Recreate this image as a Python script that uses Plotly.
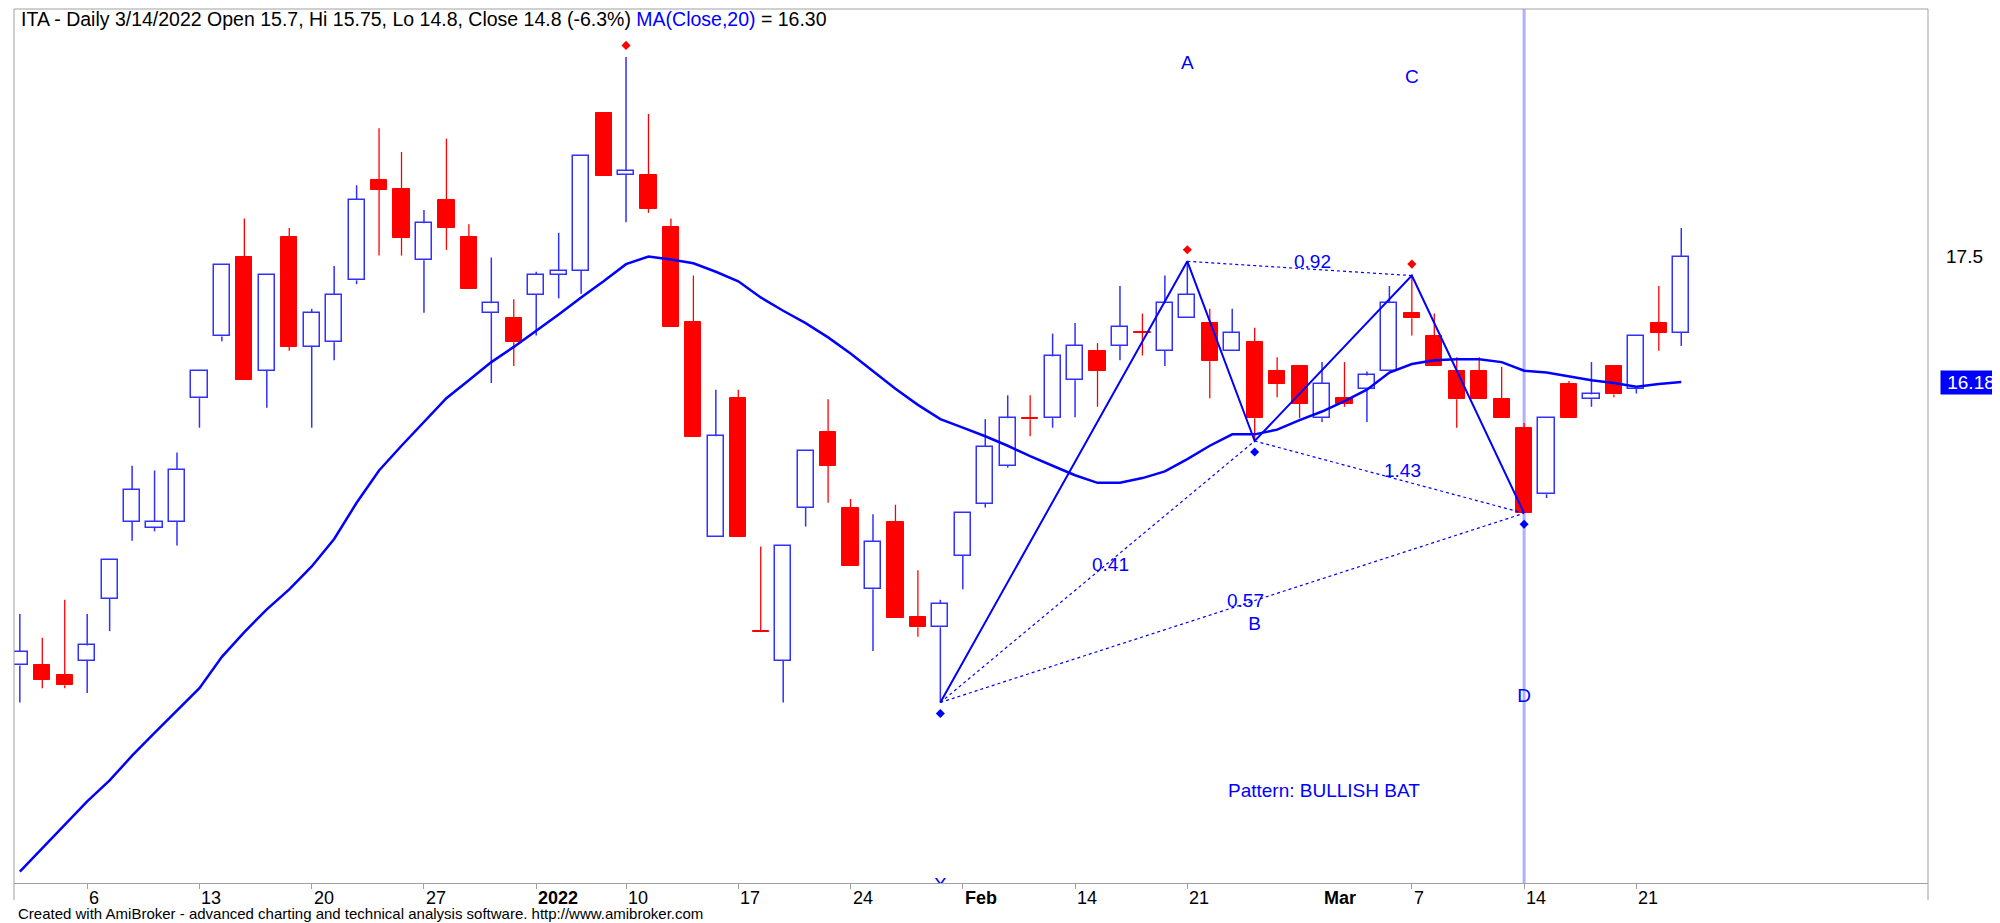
import plotly.graph_objects as go

# ---------------- data (bar index 0..74, Dec 2021 - Mar 23 2022) ----------------
opens = [13.20, 13.20, 13.10, 13.25, 13.90, 14.71, 14.65, 14.71, 16.01, 16.66,
         17.50, 16.30, 17.71, 16.55, 16.60, 17.25, 18.31, 18.21, 17.46, 18.10,
         17.71, 16.91, 16.85, 17.10, 17.31, 17.35, 19.01, 18.36, 18.36, 17.81,
         16.81, 14.55, 16.01, 13.56, 13.25, 14.86, 15.65, 14.86, 14.00, 14.71,
         13.71, 13.60, 14.35, 14.90, 15.30, 15.80, 15.80, 16.20, 16.51, 16.56,
         16.71, 16.51, 16.85, 16.80, 16.51, 16.60, 16.30, 16.35, 15.80, 16.01,
         16.11, 16.30, 16.91, 16.66, 16.30, 16.30, 16.00, 15.70, 15.00, 16.16,
         16.00, 16.35, 16.11, 16.80, 16.70]
highs = [13.74, 13.49, 13.89, 13.74, 14.31, 15.30, 15.25, 15.44, 16.30, 17.41,
         17.90, 17.31, 17.80, 16.95, 17.40, 18.25, 18.85, 18.60, 17.99, 18.74,
         17.84, 17.49, 17.05, 17.34, 17.75, 18.56, 19.01, 19.60, 19.00, 17.90,
         17.30, 16.10, 16.10, 14.45, 14.46, 15.45, 16.00, 14.95, 14.79, 14.89,
         14.20, 13.89, 14.80, 15.79, 16.04, 16.04, 16.69, 16.80, 16.59, 17.19,
         16.90, 17.30, 17.45, 16.95, 16.95, 16.75, 16.44, 16.35, 16.39, 16.39,
         16.29, 17.19, 17.30, 16.90, 16.44, 16.44, 16.34, 15.75, 15.80, 16.19,
         16.39, 16.35, 16.66, 17.19, 17.80]
lows = [12.81, 12.96, 12.96, 12.91, 13.56, 14.51, 14.61, 14.46, 15.70, 16.61,
        16.20, 15.91, 16.51, 15.70, 16.41, 17.21, 17.51, 17.51, 16.91, 17.57,
        17.16, 16.17, 16.35, 16.67, 17.06, 17.11, 18.35, 17.86, 17.96, 16.76,
        15.60, 14.55, 14.55, 13.55, 12.81, 14.66, 14.91, 14.25, 13.35, 13.70,
        13.50, 12.81, 14.00, 14.86, 15.28, 15.61, 15.70, 15.81, 15.92, 16.41,
        16.46, 16.35, 16.85, 16.01, 16.51, 15.56, 16.02, 15.80, 15.76, 15.92,
        15.76, 16.30, 16.67, 16.35, 15.70, 16.00, 15.80, 14.80, 14.96, 15.80,
        15.92, 16.02, 16.06, 16.51, 16.56]
closes = [13.34, 13.05, 12.99, 13.41, 14.31, 15.05, 14.71, 15.26, 16.30, 17.41,
          16.20, 17.31, 16.55, 16.91, 17.10, 18.10, 18.20, 17.70, 17.85, 17.80,
          17.16, 17.01, 16.60, 17.31, 17.35, 18.56, 18.35, 18.40, 18.00, 16.76,
          15.60, 15.61, 14.55, 13.55, 14.46, 15.45, 15.30, 14.25, 14.50, 13.70,
          13.60, 13.85, 14.80, 15.50, 15.80, 15.79, 16.45, 16.56, 16.30, 16.76,
          16.70, 17.01, 17.10, 16.40, 16.70, 15.80, 16.16, 15.95, 16.16, 15.95,
          16.25, 17.01, 16.85, 16.35, 16.00, 16.00, 15.80, 14.80, 15.80, 15.80,
          16.05, 16.05, 16.66, 16.70, 17.50]
ma20 = [11.03, 11.28, 11.53, 11.77, 11.99, 12.25, 12.49, 12.72, 12.96, 13.29,
        13.55, 13.79, 14.00, 14.24, 14.53, 14.91, 15.25, 15.51, 15.76, 16.01,
        16.20, 16.39, 16.55, 16.72, 16.89, 17.07, 17.24, 17.42, 17.50, 17.47,
        17.43, 17.34, 17.24, 17.07, 16.93, 16.80, 16.65, 16.48, 16.29, 16.11,
        15.94, 15.79, 15.70, 15.61, 15.51, 15.40, 15.30, 15.20, 15.12, 15.12,
        15.17, 15.24, 15.37, 15.51, 15.63, 15.63, 15.68, 15.78, 15.87, 15.98,
        16.10, 16.28, 16.37, 16.41, 16.42, 16.42, 16.39, 16.30, 16.28, 16.24,
        16.20, 16.17, 16.13, 16.16, 16.18]

tick_idx = [3, 8, 13, 18, 23, 27, 32, 37, 42, 47, 52, 58, 62, 67, 72]
tick_labels = ["6", "13", "20", "27", "2022", "10", "17", "24", "Feb", "14", "21", "Mar", "7", "14", "21"]
tick_bold = [False, False, False, False, True, False, False, False, True, False, False, True, False, False, False]
tick_has_mark = [True, True, True, True, True, True, True, True, True, True, True, False, True, True, True]

pattern_names = ["X", "A", "B", "C", "D"]
pattern_idx = [41, 52, 55, 62, 67]
pattern_is_high = [False, True, False, True, False]
ratio_pairs = [("X", "B"), ("A", "C"), ("B", "D"), ("X", "D")]
ratio_labels = ["0.41", "0.92", "1.43", "0.57"]
pivot_high_idx = [27, 52, 62]
pivot_low_idx = [41, 55, 67]
selected_bar = 67
pattern_text = "Pattern: BULLISH BAT"
y_axis_ticks = [17.5]

# ---------------- layout constants ----------------
# the page body has an 8px margin, so the figure is 8px smaller and margins shifted
BODY = 8
W, H = 2000 - BODY, 923 - BODY
M_L, M_T = 14 - BODY, 9 - BODY
PLOT_W, PLOT_H = 1914, 874
M_R = W - M_L - PLOT_W
M_B = H - M_T - PLOT_H
Y_RANGE = [10.911, 20.104]
X_RANGE = [-0.26, 84.99]
UPP = (Y_RANGE[1] - Y_RANGE[0]) / PLOT_H  # price units per pixel

FONT = "Arial, 'Liberation Sans', sans-serif"
BLUE = "#0000ff"
CANDLE_BLUE = "#3030ff"
RED = "#ff0000"
GRAY = "#a0a0a0"

n = len(closes)
idx = list(range(n))

fig = go.Figure()

# selected bar vertical line
fig.add_shape(type="line", xref="x", yref="paper", x0=selected_bar, x1=selected_bar, y0=0, y1=1,
              line=dict(color="#b0b0ff", width=3), layer="below")

# candle bodies
up = [i for i in idx if closes[i] >= opens[i]]
dn = [i for i in idx if closes[i] < opens[i]]
fig.add_trace(go.Bar(x=up, base=[opens[i] for i in up], y=[closes[i] - opens[i] for i in up],
                     width=0.72, marker=dict(color="white", line=dict(color=CANDLE_BLUE, width=1.5)),
                     hoverinfo="skip", showlegend=False))
fig.add_trace(go.Bar(x=dn, base=[closes[i] for i in dn], y=[opens[i] - closes[i] for i in dn],
                     width=0.72, marker=dict(color=RED, line=dict(color=RED, width=1)),
                     hoverinfo="skip", showlegend=False))


def wick_xy(ids):
    xs, ys = [], []
    for i in ids:
        top = max(opens[i], closes[i])
        bot = min(opens[i], closes[i])
        xs += [i, i, None, i, i, None]
        ys += [highs[i], top, None, bot, lows[i], None]
    return xs, ys


wx, wy = wick_xy(up)
fig.add_trace(go.Scatter(x=wx, y=wy, mode="lines", line=dict(color=CANDLE_BLUE, width=1.5),
                         hoverinfo="skip", showlegend=False))
wx, wy = wick_xy(dn)
fig.add_trace(go.Scatter(x=wx, y=wy, mode="lines", line=dict(color=RED, width=1.3),
                         hoverinfo="skip", showlegend=False))

# moving average
fig.add_trace(go.Scatter(x=idx, y=ma20, mode="lines", line=dict(color=BLUE, width=2.5),
                         hoverinfo="skip", showlegend=False))

# pattern points
pp = {}
for name, i, hi in zip(pattern_names, pattern_idx, pattern_is_high):
    pp[name] = (i, highs[i] if hi else lows[i])

fig.add_trace(go.Scatter(x=[pp[k][0] for k in pattern_names], y=[pp[k][1] for k in pattern_names],
                         mode="lines", line=dict(color=BLUE, width=2), hoverinfo="skip", showlegend=False))

dx, dy = [], []
for a, b in ratio_pairs:
    dx += [pp[a][0], pp[b][0], None]
    dy += [pp[a][1], pp[b][1], None]
fig.add_trace(go.Scatter(x=dx, y=dy, mode="lines", line=dict(color=BLUE, width=1.2, dash="3px,3px"),
                         hoverinfo="skip", showlegend=False))

# pivot dots
fig.add_trace(go.Scatter(x=pivot_high_idx, y=[highs[i] + 11.5 * UPP for i in pivot_high_idx],
                         mode="markers", marker=dict(symbol="diamond", size=7, color=RED),
                         hoverinfo="skip", showlegend=False))
fig.add_trace(go.Scatter(x=pivot_low_idx, y=[lows[i] - 11 * UPP for i in pivot_low_idx],
                         mode="markers", marker=dict(symbol="diamond", size=7, color=BLUE),
                         hoverinfo="skip", showlegend=False))

# pattern letters (clipped by plot area)
lab_y = []
for name, hi in zip(pattern_names, pattern_is_high):
    lab_y.append(pp[name][1] + 197 * UPP if hi else pp[name][1] - 184 * UPP)
fig.add_trace(go.Scatter(x=[pp[k][0] for k in pattern_names], y=lab_y, mode="text",
                         text=pattern_names, textposition="middle center",
                         textfont=dict(family=FONT, size=19, color=BLUE), cliponaxis=True,
                         hoverinfo="skip", showlegend=False))

annotations = []
# ratio labels
for (a, b), lab in zip(ratio_pairs, ratio_labels):
    mx = (pp[a][0] + pp[b][0]) / 2
    my = (pp[a][1] + pp[b][1]) / 2
    annotations.append(dict(x=mx, y=my, xref="x", yref="y", text=lab, showarrow=False,
                            xanchor="center", yanchor="middle", xshift=13, yshift=7,
                            font=dict(family=FONT, size=19, color=BLUE)))

annotations.append(dict(x=58.1, y=11.88, xref="x", yref="y", text=pattern_text, showarrow=False,
                        xanchor="center", yanchor="middle", font=dict(family=FONT, size=19, color=BLUE)))

# date labels (left-aligned at the tick, as in the source)
for i, lab, b in zip(tick_idx, tick_labels, tick_bold):
    annotations.append(dict(x=i, y=0, xref="x", yref="paper", text=f"<b>{lab}</b>" if b else lab,
                            showarrow=False, xanchor="left", yanchor="middle", xshift=0, yshift=-15,
                            font=dict(family=FONT, size=18, color="black")))

# title
sel = selected_bar
chg = (closes[sel] - closes[sel - 1]) / closes[sel - 1] * 100
title = (f"ITA - Daily 3/14/2022 Open {opens[sel]:g}, Hi {highs[sel]:g}, Lo {lows[sel]:g}, "
         f"Close {closes[sel]:g} ({chg:.1f}%) <span style='color:#0000ff'>MA(Close,20)</span> = {ma20[sel]:.2f}")
annotations.append(dict(x=0, y=1, xref="paper", yref="paper", text=title, showarrow=False,
                        xanchor="left", yanchor="middle", xshift=5, yshift=-10,
                        font=dict(family=FONT, size=19.5, color="black")))

# last MA value box
annotations.append(dict(x=1, y=ma20[-1], xref="paper", yref="y", text=f"{ma20[-1]:.2f}", showarrow=False,
                        xanchor="left", yanchor="middle", xshift=12, width=58, align="center",
                        bgcolor=BLUE, borderpad=1, font=dict(family=FONT, size=19, color="white")))

# footer
annotations.append(dict(x=0, y=0, xref="paper", yref="paper",
                        text="Created with AmiBroker - advanced charting and technical analysis software. http://www.amibroker.com",
                        showarrow=False, xanchor="left", yanchor="middle", xshift=3, yshift=-30,
                        borderpad=0, font=dict(family=FONT, size=15, color="black")))

# frame lines
ext = -17 / PLOT_H
shapes = [
    dict(type="line", xref="paper", yref="paper", x0=0, x1=1, y0=1, y1=1, line=dict(color=GRAY, width=1)),
    dict(type="line", xref="paper", yref="paper", x0=0, x1=0, y0=ext, y1=1, line=dict(color=GRAY, width=1)),
    dict(type="line", xref="paper", yref="paper", x0=1, x1=1, y0=ext, y1=1, line=dict(color=GRAY, width=1)),
]
for s in shapes:
    fig.add_shape(**s)

fig.update_layout(
    width=W, height=H, autosize=False,
    margin=dict(l=M_L, r=M_R, t=M_T, b=M_B, pad=0),
    plot_bgcolor="white", paper_bgcolor="white",
    barmode="overlay", bargap=0,
    showlegend=False,
    annotations=annotations,
    xaxis=dict(range=X_RANGE, showgrid=False, zeroline=False, showline=True, linecolor=GRAY, linewidth=1,
               ticks="outside", ticklen=5, tickcolor=GRAY, tickwidth=1,
               tickvals=[i for i, m in zip(tick_idx, tick_has_mark) if m],
               showticklabels=False, fixedrange=True, automargin=False),
    yaxis=dict(range=Y_RANGE, side="right", showgrid=False, zeroline=False, showline=False,
               tickvals=y_axis_ticks, ticktext=[f"{v:g}" for v in y_axis_ticks], ticks="",
               ticklabelstandoff=17, tickfont=dict(family=FONT, size=19, color="black"),
               fixedrange=True, automargin=False),
    hovermode=False,
)

fig.write_html("out.html")
